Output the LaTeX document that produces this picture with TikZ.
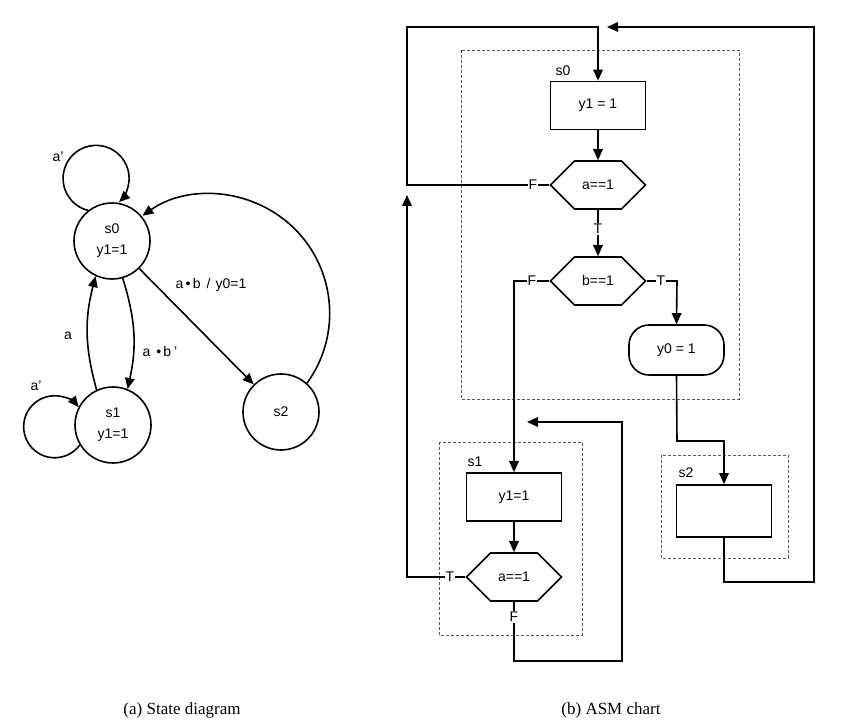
\documentclass[tikz,border=0pt]{standalone}
\usepackage{fontspec}
\setmainfont{Liberation Sans}
\newfontfamily\capfont{Liberation Serif}
\usetikzlibrary{arrows.meta,shapes.symbols}
\begin{document}
\begin{tikzpicture}[x=1pt,y=1pt,
  txt/.style={font=\fontsize{14}{16}\selectfont, inner sep=1pt},
  state/.style={circle, draw, line width=1.6pt, minimum size=76pt, inner sep=0pt,
    align=center, font=\fontsize{14}{21}\selectfont},
  arr/.style={line width=1.6pt, -{Triangle[length=11pt,width=9.5pt]}},
  wire/.style={line width=1.6pt},
  stbox/.style={draw, line width=1.6pt, minimum width=95pt, minimum height=48pt,
    inner sep=0pt, font=\fontsize{14}{16}\selectfont},
  decbox/.style={signal, signal to=east and west, signal pointer angle=90, draw,
    line width=1.6pt, minimum width=95pt, minimum height=48pt, inner sep=0pt,
    font=\fontsize{14}{16}\selectfont},
  condout/.style={draw, line width=1.6pt, rounded corners=20pt, minimum width=95pt,
    minimum height=50pt, inner sep=0pt, font=\fontsize{14}{16}\selectfont},
  dbox/.style={draw=black!65, line width=0.9pt, dash pattern=on 3pt off 2pt},
  lbl/.style={txt, fill=white, inner sep=0.5pt},
  captext/.style={font=\capfont\fontsize{17}{20}\selectfont}
]
\useasboundingbox (0,0) rectangle (855,727);

% ---------------- state diagram ----------------
\node[state] (s0) at (112,486) {s0\\y1=1};
\node[state] (s1) at (113,302) {s1\\y1=1};
\node[state] (s2) at (281,315) {s2};

\draw[arr] (s0.128) arc[start angle=-104, delta angle=-302, radius=33];
\draw[arr] (s1.211) arc[start angle=-36, delta angle=-285, radius=31];
\draw[arr] (s0.-74) to[bend left=15] (s1.68);
\draw[arr] (s1.115) to[bend left=15] (s0.-115);
\draw[arr] (s0) -- (s2);
\draw[arr] (s2.48) arc[start angle=-36, end angle=125, radius=119];

\node[txt] (la0) at (58,570) {a'};
\node[txt] (la1) at (36,341) {a'};
\node[txt] (la) at (68,391) {a};
\node[txt] (lab) at (160,375) {a\hspace{6pt}•\hspace{2pt}b\hspace{3pt}'};
\node[txt] (lab2) at (211,442) {a\,•\,b\hspace{6pt}/\hspace{5pt}y0=1};

% ---------------- ASM chart ----------------
\draw[dbox] (461,677) rectangle (739,328);
\draw[dbox] (439,285) rectangle (582,92);
\draw[dbox] (661,272) rectangle (788,169);

\node[txt] (n0) at (563,656) {s0};
\node[txt] (n1) at (475,265) {s1};
\node[txt] (n2) at (686,254) {s2};

\node[stbox] (r0) at (598,621.5) {y1 = 1};
\node[decbox] (da) at (598,542) {a==1};
\node[decbox] (db) at (598,446) {b==1};
\node[condout] (y0) at (676.5,377) {y0 = 1};
\node[stbox, minimum height=52pt] (r2) at (724,216) {};
\node[stbox] (r1) at (514,230) {y1=1};
\node[decbox] (dc) at (514,150) {a==1};

\node[lbl] (fa) at (533,542) {F};
\node[lbl] (ta) at (598,498) {T};
\node[lbl] (fb) at (532,446) {F};
\node[lbl] (tb) at (661,446) {T};
\node[lbl] (tc) at (450,150) {T};
\node[lbl] (fc) at (514,110) {F};

\coordinate (top) at (598,700);

% state s0
\draw[arr] (r0.south) -- (da.north);
\draw[wire] (da.west) -- (fa.east);
\draw[arr] (fa.west) -- (407,542) -- (407,700) -- (top) -- (r0.north);
\draw[wire] (da.south) -- (ta.north);
\draw[arr] (ta.south) -- (db.north);
\draw[wire] (db.west) -- (fb.east);
\draw[arr] (fb.west) -- (514,446) -- (r1.north);
\draw[wire] (db.east) -- (tb.west);
\draw[arr] (tb.east) -- (677,446) -- (y0.north);
\draw[arr] (y0.south) -- (677,286) -- (724,286) -- (r2.north);

% state s2
\draw[arr] (r2.south) -- (724,145) -- (814,145) -- (814,700) -- (607,700);

% state s1
\draw[arr] (r1.south) -- (dc.north);
\draw[wire] (dc.west) -- (tc.east);
\draw[arr] (tc.west) -- (407,150) -- (407,532);
\draw[wire] (dc.south) -- (fc.north);
\draw[arr] (fc.south) -- (514,66) -- (622,66) -- (622,305) -- (527,305);

% captions
\node[captext] (capa) at (182,17) {(a) State diagram};
\node[captext] (capb) at (611,17) {(b) ASM chart};
\end{tikzpicture}
\end{document}
